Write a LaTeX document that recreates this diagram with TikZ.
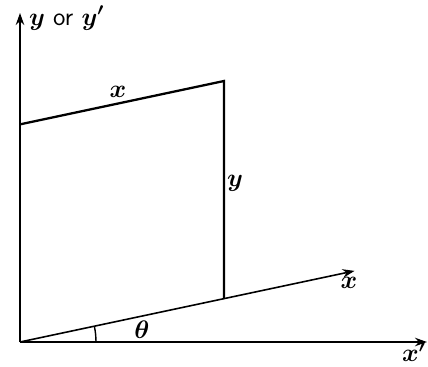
\documentclass[tikz,border=0pt]{standalone}
\usepackage{amsmath}
\usepackage{tikz}
\usetikzlibrary{arrows.meta, positioning, calc}

\begin{document}
\begin{tikzpicture}[
      axis/.style={line width=0.9pt, -{Stealth[length=2.4mm, width=1.7mm]}},
      side/.style={line width=1.3pt},
      lbl/.style={font=\Large\boldmath, inner sep=1pt},
      >=Stealth]
    \useasboundingbox (-0.4,-0.48) rectangle (8.16,6.84);
    % corners of the rotated box
    \coordinate (O) at (0,0);
    \coordinate (B) at (12:4.17);
    \coordinate (C) at (4.08,5.22);
    \coordinate (A) at ($(C)-(B)$);
    % axis ends
    \coordinate (ytip) at (0,6.58);
    \coordinate (xptip) at (8.14,0);
    \coordinate (xtip) at (12:6.84);
    \draw[axis] (O) -- (ytip);
    \draw[axis] (O) -- (xptip);
    \draw[axis] (O) -- (xtip);
    \draw[side] (A) -- (C) -- (B);
    \draw[line width=0.8pt] (O) ++(1.52,0) arc[start angle=0, end angle=12, radius=1.52];
    \node[lbl, anchor=west] (ylab) at (0.14,6.48) {$y$ \textsf{or} $y'$};
    \node[lbl] (xlab) at (6.58,1.18) {$x$};
    \node[lbl] (xplab) at (7.88,-0.2) {$x'$};
    \node[lbl] (toplab) at (1.96,5.0) {$x$};
    \node[lbl] (sidelab) at (4.3,3.18) {$y$};
    \node[lbl] (thlab) at (2.44,0.24) {$\theta$};
\end{tikzpicture}
\end{document}
